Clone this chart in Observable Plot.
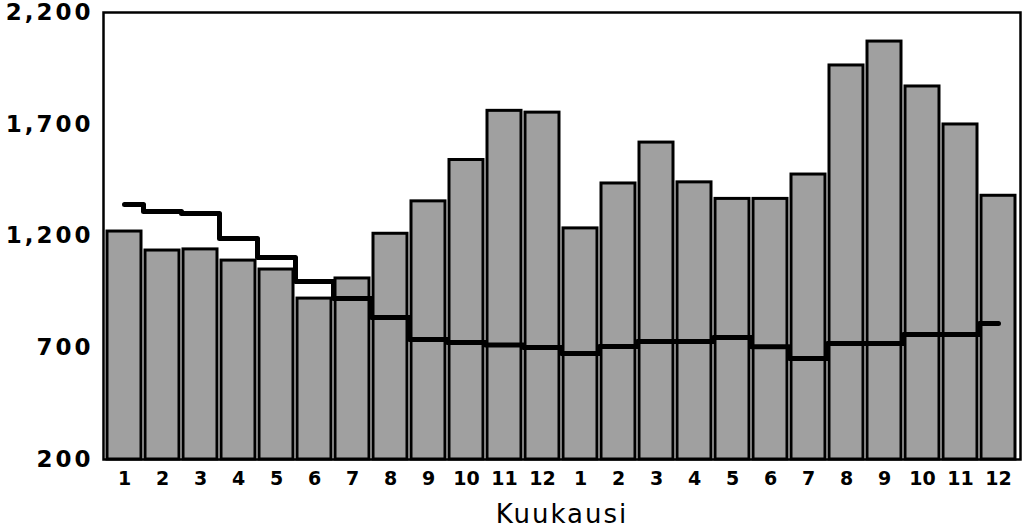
<!DOCTYPE html>
<html>
<head>
<meta charset="utf-8">
<script src="https://cdn.jsdelivr.net/npm/d3@7"></script>
<script src="https://cdn.jsdelivr.net/npm/@observablehq/plot@0.6"></script>
<style>
  html, body { margin: 0; padding: 0; background: #fff; }
  #chart svg { display: block; }
  #chart g[aria-label="y-axis tick label"] text { letter-spacing: 3px; }
  #chart g[aria-label="text"] text { letter-spacing: 2px; }
</style>
</head>
<body>
<div id="chart"></div>
<script>
// Month labels (two years)
const monthLabels = [1,2,3,4,5,6,7,8,9,10,11,12, 1,2,3,4,5,6,7,8,9,10,11,12];
// Monthly values (bars)
const barValues = [1220,1135,1140,1090,1050,920,1010,1210,1355,1540,1760,1752,
                   1234,1435,1618,1440,1366,1366,1475,1963,2070,1869,1699,1380];
// Trend values (step line)
const trendValues = [1341,1310,1301,1189,1104,996,920,835,737,724,712,701,
                     674,706,728,728,746,704,652,719,719,759,759,809];
const yTicks = [200, 700, 1200, 1700, 2200];
const yMin = 200, yMax = 2200;
const xLabel = "Kuukausi";

const data = monthLabels.map((m, i) => ({i, month: m, value: barValues[i], trend: trendValues[i]}));
const fmt = d3.format(",");

const chart = Plot.plot({
  width: 1024,
  height: 529,
  marginTop: 12,
  marginLeft: 103,
  marginRight: 4,
  marginBottom: 70,
  style: {background: "#fff", color: "#000", fontFamily: "DejaVu Sans, sans-serif"},
  x: {type: "band", domain: d3.range(monthLabels.length), paddingInner: 0.1, paddingOuter: 0.05},
  y: {domain: [yMin, yMax]},
  marks: [
    Plot.barY(data, {x: "i", y1: yMin, y2: "value", fill: "#a0a0a0", stroke: "#000", strokeWidth: 3}),
    Plot.line(data, {x: "i", y: "trend", curve: "step", stroke: "#000", strokeWidth: 5}),
    Plot.frame({stroke: "#000", strokeWidth: 2.5}),
    Plot.axisY({ticks: yTicks, tickSize: 0, tickPadding: 10, tickFormat: fmt, fontSize: 23, fontWeight: "bold", label: null}),
    Plot.axisX({tickSize: 0, tickPadding: 12, tickFormat: i => monthLabels[i], fontSize: 19, fontWeight: "bold",
      label: null}),
    Plot.text([xLabel], {text: d => d, frameAnchor: "bottom", dy: 55, fontSize: 26, lineAnchor: "middle"})
  ]
});
document.getElementById("chart").appendChild(chart);
</script>
</body>
</html>
